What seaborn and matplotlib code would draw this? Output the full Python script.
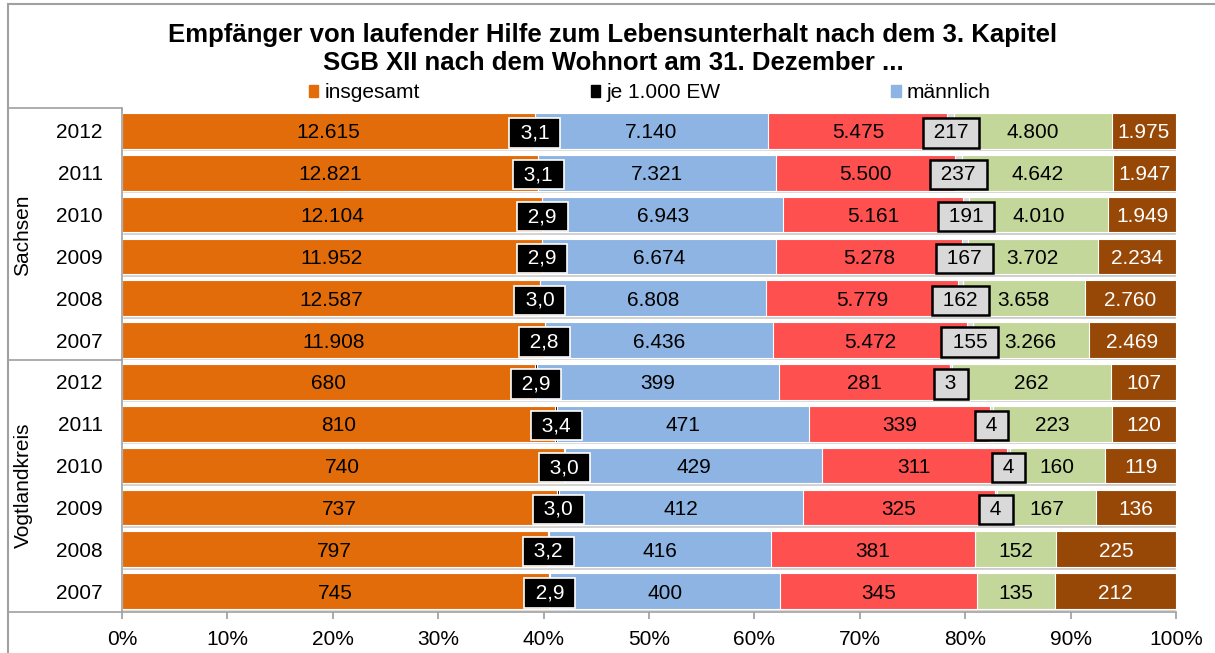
import numpy as np
import pandas as pd
import seaborn as sns
import matplotlib.pyplot as plt
from matplotlib.patches import Patch, Rectangle
from matplotlib.lines import Line2D

sns.set_theme(style="white")
plt.rcParams['font.family'] = ['Liberation Sans', 'DejaVu Sans']
plt.rcParams['text.color'] = 'black'
plt.rcParams['xtick.color'] = 'black'
plt.rcParams['ytick.color'] = 'black'

# data (rows top to bottom)
regions = ["Sachsen"] * 6 + ["Vogtlandkreis"] * 6
years = ["2012", "2011", "2010", "2009", "2008", "2007"] * 2
insgesamt = [12615, 12821, 12104, 11952, 12587, 11908, 680, 810, 740, 737, 797, 745]
je_1000 = [3.1, 3.1, 2.9, 2.9, 3.0, 2.8, 2.9, 3.4, 3.0, 3.0, 3.2, 2.9]
maennlich = [7140, 7321, 6943, 6674, 6808, 6436, 399, 471, 429, 412, 416, 400]
weiblich = [5475, 5500, 5161, 5278, 5779, 5472, 281, 339, 311, 325, 381, 345]
grau = [217, 237, 191, 167, 162, 155, 3, 4, 4, 4, 0, 0]
gruen = [4800, 4642, 4010, 3702, 3658, 3266, 262, 223, 160, 167, 152, 135]
braun = [1975, 1947, 1949, 2234, 2760, 2469, 107, 120, 119, 136, 225, 212]

series = [insgesamt, je_1000, maennlich, weiblich, grau, gruen, braun]
colors = ["#E36C0A", "#000000", "#8DB4E2", "#FF5050", "#D9D9D9", "#C4D79B", "#974806"]
legend_names = ["insgesamt", "je 1.000 EW", "männlich"]

df = pd.DataFrame({"row": [f"{r} {y}" for r, y in zip(regions, years)]})
vals = np.array(series, dtype=float)
shares = vals / vals.sum(axis=0)
cum = np.cumsum(shares, axis=0)

FS = 15
fig = plt.figure(figsize=(12.15, 6.53), dpi=100)
ax = fig.add_axes([0.1004, 1 - 612 / 653, 0.8676, 502 / 653])

# shadow behind bars
ax.barh(np.arange(12) + 0.06, 1.0, height=0.85, color="#c8c8c8", zorder=0)

# stacked bars: draw cumulative shares from the back
for k in range(len(series) - 1, -1, -1):
    df["cum"] = cum[k]
    sns.barplot(data=df, x="cum", y="row", orient="h", color=colors[k],
                width=0.85, errorbar=None, ax=ax, saturation=1,
                edgecolor="white", linewidth=0.8)


def fmt(v, k):
    if k == 1:
        return f"{v:.1f}".replace(".", ",")
    return f"{int(v):,}".replace(",", ".")


for k in range(len(series)):
    for i in range(12):
        v = vals[k, i]
        if v == 0:
            continue
        xc = cum[k, i] - shares[k, i] / 2
        if k == 1:
            ax.text(xc, i, " " + fmt(v, k) + " ", ha="center", va="center_baseline", fontsize=FS,
                    color="white",
                    bbox=dict(boxstyle="square,pad=0.25", fc="black", ec="white", lw=1.2), zorder=5)
        elif k == 4:
            ax.text(xc, i, " " + fmt(v, k) + " ", ha="center", va="center_baseline", fontsize=FS,
                    color="black",
                    bbox=dict(boxstyle="square,pad=0.25", fc="#D9D9D9", ec="black", lw=1.8), zorder=5)
        else:
            ax.text(xc, i, fmt(v, k), ha="center", va="center_baseline", fontsize=FS,
                    color="white" if k == 6 else "black", zorder=5)

ax.set_xlim(0, 1)
ax.set_ylim(11.5, -0.5)
ax.set_xticks(np.arange(0, 1.01, 0.1))
ax.set_xticklabels([f"{int(round(t * 100))}%" for t in np.arange(0, 1.01, 0.1)], fontsize=FS)
ax.set_yticks(range(12))
ax.set_yticklabels(years, fontsize=FS)
ax.set_xlabel("")
ax.set_ylabel("")
ax.tick_params(axis="x", length=5, color="#a0a0a0", direction="out", pad=8, bottom=True)
ax.tick_params(axis="y", length=0, pad=14)
for s in ["top", "right"]:
    ax.spines[s].set_visible(False)
for s in ["left", "bottom"]:
    ax.spines[s].set_color("#a0a0a0")
    ax.spines[s].set_linewidth(1.2)

# group labels and table lines
fig.text(23 / 1215, 1 - 235 / 653, "Sachsen", rotation=90, ha="center", va="center", fontsize=FS)
fig.text(23 / 1215, 1 - 485 / 653, "Vogtlandkreis", rotation=90, ha="center", va="center", fontsize=FS)
for yy in [108, 360, 612]:
    fig.add_artist(Line2D([8 / 1215, 122 / 1215], [1 - yy / 653] * 2, color="#a0a0a0", lw=1.2))
fig.add_artist(Line2D([122 / 1215] * 2, [1 - 108 / 653, 1 - 110 / 653], color="#a0a0a0", lw=1.2))

# outer frame
fig.add_artist(Rectangle((8 / 1215, -0.01), 1.02, 1 - 4 / 653 + 0.01, transform=fig.transFigure,
                         fill=False, ec="#a0a0a0", lw=1.5))

fig.text(0.5045, 1 - 42 / 653, "Empfänger von laufender Hilfe zum Lebensunterhalt nach dem 3. Kapitel",
         ha="center", va="baseline", fontsize=18.5, fontweight="bold")
fig.text(0.5045, 1 - 70 / 653, "SGB XII nach dem Wohnort am 31. Dezember ...",
         ha="center", va="baseline", fontsize=18.5, fontweight="bold")

handles = [Patch(color=colors[k], label=legend_names[k]) for k in range(3)]
fig.legend(handles=handles, loc="center", bbox_to_anchor=(0.535, 1 - 93 / 653), ncol=3,
           frameon=False, fontsize=FS, handlelength=0.45, handleheight=0.45,
           handletextpad=0.3, columnspacing=8.2)

fig.savefig("out.png", dpi=100)
